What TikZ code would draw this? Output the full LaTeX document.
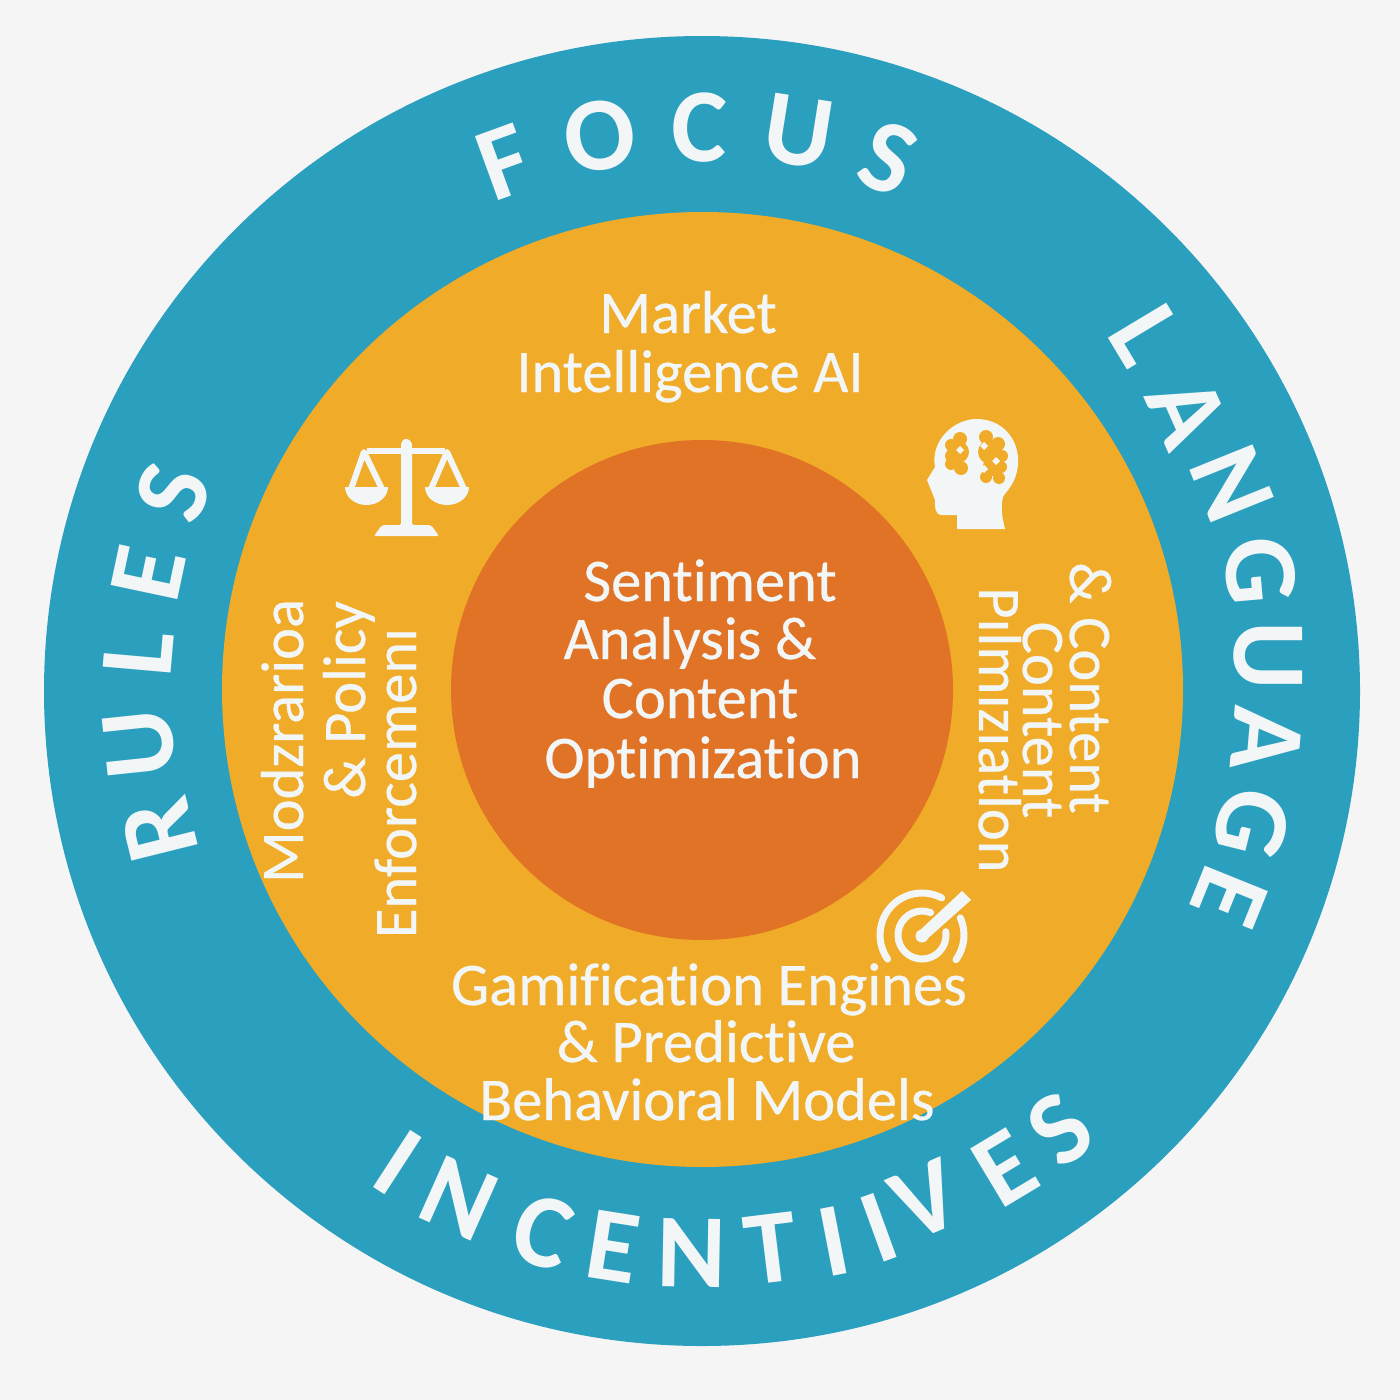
\documentclass[tikz,border=0pt]{standalone}
\usepackage{fontspec}
\setmainfont{Carlito}
\newfontfamily\linefont{Carlito}[FakeBold=0.5,Ligatures=CommonOff]
\usetikzlibrary{positioning,shapes.geometric}
\definecolor{pagegrey}{HTML}{F5F5F5}
\definecolor{ringteal}{HTML}{2B9FBE}
\definecolor{ringamber}{HTML}{F0AB28}
\definecolor{coreorange}{HTML}{E07325}
\definecolor{paper}{HTML}{F3F6F7}
\tikzset{
  disc/.style={ellipse,inner sep=0pt},
  ringletter/.style={text=paper,inner sep=0pt,font=\fontsize{105}{105}\selectfont\bfseries},
  bodyline/.style={text=paper,inner sep=0pt,text height=48pt,text depth=12pt,font=\fontsize{60.5}{60}\linefont},
  iconpart/.style={fill=paper,draw=none},
  iconline/.style={draw=paper,line width=7pt,line cap=round}
}
\begin{document}
\begin{tikzpicture}[x=1pt,y=-1pt]
  \useasboundingbox[fill=pagegrey] (0,0) rectangle (1400,1400);
  \node[disc,fill=ringteal,minimum width=1316pt,minimum height=1310pt] (outer) at (702,691) {};
  \node[disc,fill=ringamber,minimum width=961pt,minimum height=955pt] (middle) at (702.5,689.5) {};
  \node[disc,fill=coreorange,minimum width=502pt,minimum height=500pt] (core) at (702,690) {};
  \foreach \ch/\cx/\cy/\rot [count=\n] in {F/504/162/20,O/600/136/8,C/699/127/-2,U/799/132/-9,S/888/158/-22}
    \node[ringletter,rotate=\rot] (focus\n) at (\cx,\cy) {\ch};
  \foreach \ch/\cx/\cy/\rot [count=\n] in {L/1146/335/-59,A/1188/412/-66,N/1232/484/-68,G/1260/571/-85,U/1268/656/-90,A/1267/739/-95,G/1252/823/-104,E/1229/897/-112}
    \node[ringletter,rotate=\rot] (language\n) at (\cx,\cy) {\ch};
  \foreach \ch/\cx/\cy/\rot [count=\n] in {I/398/1163/-33,N/459/1198/-24,C/543/1232/-17,E/613/1247/-9,N/692/1253/-1,T/771/1249/7,I/834/1241/11,I/879/1228/20,V/926/1200/23,E/1005/1168/31,S/1060/1129/38}
    \node[ringletter,rotate=\rot] (incentives\n) at (\cx,\cy) {\ch};
  \foreach \ch/\cx/\cy/\rot [count=\n] in {R/159/830/104,U/139/744/96,L/139/653/85,E/149/573/78,S/173/493/70}
    \node[ringletter,rotate=\rot] (rules\n) at (\cx,\cy) {\ch};
  \node[bodyline] (market) at (688,315) {Market};
  \node[bodyline] (intel) at (690,374) {Intelligence AI};
  \node[bodyline] (senti) at (710,583) {Sentiment};
  \node[bodyline] (analysis) at (690,641) {Analysis \&};
  \node[bodyline] (content) at (700,700) {Content};
  \node[bodyline] (optim) at (703,760) {Optimization};
  \node[bodyline] (gamif) at (709,987) {Gamification Engines};
  \node[bodyline] (predict) at (706,1044) {\& Predictive};
  \node[bodyline] (behav) at (707,1102) {Behavioral Models};
  \node[bodyline,rotate=-90] (rcontent) at (1088,688) {\& Content};
  \node[bodyline,rotate=-90] (rcontentb) at (1041,720) {Content};
  \node[bodyline,rotate=-90] (rprim) at (997,730) {Pılmızıatlon};
  \node[bodyline,rotate=90] (lmod) at (285,741) {Modzrarioa};
  \node[bodyline,rotate=90] (lpolicy) at (347,700) {\& Policy};
  \node[bodyline,rotate=90] (lenforce) at (398,783) {Enforcemenı};
  % scales
  \path[iconpart,rounded corners=2pt] (401,453) -- (401,442) -- (406,438) -- (412,442) -- (412,525) -- (431,525) -- (439,536) -- (374,536) -- (382,525) -- (401,525) -- cycle;
  \path[iconpart] (367,448) rectangle (445,454);
  \draw[draw=paper,line width=6pt,line join=round] (351,489) -- (364,452) -- (382,489);
  \draw[draw=paper,line width=6pt,line join=round] (431,489) -- (447,452) -- (464,489);
  \path[iconpart] (345,487) -- (388,487) arc[start angle=0,end angle=-180,x radius=21.5pt,y radius=18pt] -- cycle;
  \path[iconpart] (425,487) -- (469,487) arc[start angle=0,end angle=-180,x radius=22pt,y radius=18pt] -- cycle;
  % head with brain
  \path[iconpart] (957,529) -- (957,515) -- (942,515) .. controls (934,515) and (935,505) .. (935,500) -- (927,480) -- (935,467) .. controls (930,440) and (955,418) .. (978,419) .. controls (1005,420) and (1020,442) .. (1018,465) .. controls (1016,485) and (1005,492) .. (1003,497) .. controls (1000,510) and (1003,520) .. (1005,529) -- cycle;
  \foreach \bx/\by/\br in {960/439/7,951/445/6,952/456/7,958/452/11,951/464/6,961/468/7,986/437/7,998/444/7,1002/456/6,990/452/12,1001/467/6,993/466/10,999/478/6,986/477/6}
    \path[fill=ringamber] (\bx,\by) circle[radius=\br pt];
  \path[iconpart] (969,428) rectangle (978,480);
  \foreach \dx/\dy in {960/450,984/446,996/461,984/469}
    \path[iconpart] (\dx-4,\dy) -- (\dx,\dy-4) -- (\dx+4,\dy) -- (\dx,\dy+4) -- cycle;
  % target
  \draw[iconline] ([shift={(62:42pt)}]922,935) arc[start angle=62,end angle=215,radius=42pt];
  \draw[iconline] ([shift={(24:42pt)}]922,935) arc[start angle=24,end angle=-36,radius=42pt];
  \draw[iconline] ([shift={(69:24pt)}]922,935) arc[start angle=69,end angle=368,radius=24pt];
  \path[iconpart] (922,936) circle[radius=6.5pt];
  \path[iconpart] (917,933) -- (962,891) -- (971,900) -- (926,940) -- cycle;
\end{tikzpicture}
\end{document}
